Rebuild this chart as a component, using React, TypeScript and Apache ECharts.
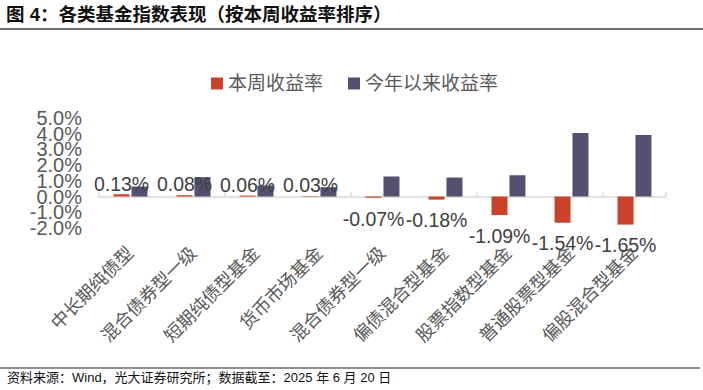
import React, { useEffect, useRef } from "react";
import * as echarts from "echarts";

const categories = [
  "中长期纯债型",
  "混合债券型一级",
  "短期纯债型基金",
  "货币市场基金",
  "混合债券型一级",
  "偏债混合型基金",
  "股票指数型基金",
  "普通股票型基金",
  "偏股混合型基金",
];
const weeklyReturn = [0.13, 0.08, 0.06, 0.03, -0.07, -0.18, -1.09, -1.54, -1.65];
const ytdReturn = [0.59, 1.14, 0.65, 0.55, 1.18, 1.12, 1.25, 3.74, 3.62];
const seriesNames = ["本周收益率", "今年以来收益率"];
const titleText = "图 4：各类基金指数表现（按本周收益率排序）";
const sourceText = "资料来源：Wind，光大证券研究所；数据截至：2025 年 6 月 20 日";

const FONT = '"Liberation Sans", "Noto Sans CJK SC", sans-serif';

const labelAxis = (parity: number) => ({
  type: "value",
  position: "left",
  offset: 0,
  min: -2,
  max: 5,
  interval: 1,
  axisLine: { show: false },
  axisTick: { show: false },
  splitLine: { show: false },
  axisLabel: {
    fontSize: 20,
    color: "#595959",
    margin: 17,
    showMinLabel: true,
    showMaxLabel: true,
    fontFamily: FONT,
    formatter: (v: number) =>
      Math.abs(Math.round(v)) % 2 === parity ? v.toFixed(1) + "%" : "",
  },
});

export default function App() {
  const ref = useRef<HTMLDivElement>(null);
  useEffect(() => {
    if (!ref.current) return;
    const chart = echarts.init(ref.current, null, { renderer: "svg" });
    chart.setOption({
      animation: false,
      textStyle: { fontFamily: FONT },
      color: ["#C9422A", "#55506F"],
      legend: {
        left: 206,
        top: 69,
        itemWidth: 12,
        itemHeight: 12,
        itemGap: 25,
        icon: "rect",
        textStyle: { fontSize: 19, color: "#595959", fontFamily: FONT },
        data: seriesNames,
      },
      grid: { left: 99, right: 37, top: 118, height: 110 },
      xAxis: [
        {
          type: "category",
          data: categories,
          position: "bottom",
          axisLine: { show: true, onZero: true, onZeroAxisIndex: 0, lineStyle: { color: "#D9D9D9", width: 1.5 } },
          axisTick: { show: true, inside: true, length: 4, lineStyle: { color: "#D9D9D9", width: 1.5 } },
          axisLabel: { show: false },
        },
        {
          type: "category",
          data: categories,
          position: "bottom",
          axisLine: { show: false, onZero: false },
          axisTick: { show: false },
          axisLabel: {
            rotate: 45,
            fontSize: 18,
            color: "#595959",
            margin: 22,
            interval: 0,
            fontFamily: FONT,
          },
        },
      ],
      yAxis: [
        labelAxis(0),
        { type: "value", min: -1.85, max: 4.62, show: false },
        labelAxis(1),
      ],
      series: [
        {
          name: seriesNames[0],
          type: "bar",
          xAxisIndex: 0,
          yAxisIndex: 1,
          barWidth: 16,
          barGap: "12%",
          data: weeklyReturn.map((v) => ({
            value: v,
            label: { position: v < 0 ? "bottom" : "top", distance: v < 0 ? 11 : 1 },
          })),
          label: {
            show: true,
            fontSize: 19.5,
            color: "#404040",
            fontFamily: FONT,
            formatter: (p: any) => p.value.toFixed(2) + "%",
          },
        },
        {
          name: seriesNames[1],
          type: "bar",
          xAxisIndex: 0,
          yAxisIndex: 1,
          barWidth: 16,
          barGap: "12%",
          data: ytdReturn,
        },
      ],
      graphic: [
        {
          type: "text",
          left: 6,
          top: 5,
          style: { text: titleText, font: `bold 18.5px ${FONT}`, fill: "#111" },
        },
        {
          type: "line",
          shape: { x1: 0, y1: 29, x2: 703, y2: 29 },
          style: { stroke: "#404040", lineWidth: 1.5 },
        },
        {
          type: "line",
          shape: { x1: 0, y1: 368, x2: 700, y2: 368 },
          style: { stroke: "#222", lineWidth: 1.2 },
        },
        {
          type: "text",
          left: 7,
          top: 371,
          style: { text: sourceText, font: `13px ${FONT}`, fill: "#111" },
        },
      ],
    });
    return () => chart.dispose();
  }, []);
  return (
    <div
      ref={ref}
      style={{ position: "fixed", left: 0, top: 0, width: 703, height: 390, background: "#fff" }}
    />
  );
}
